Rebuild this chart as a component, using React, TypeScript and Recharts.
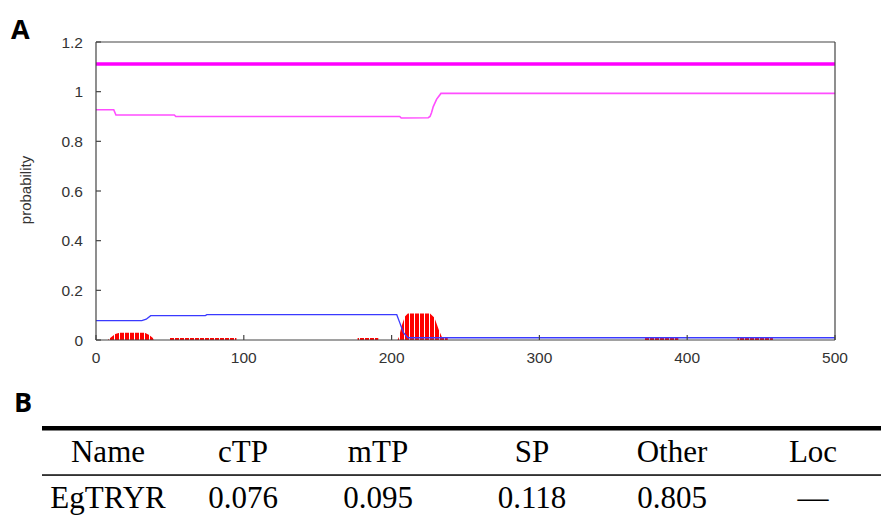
import { Area, ComposedChart, Line, XAxis, YAxis } from "recharts";

// position along the sequence (x) and probability (y)
const otherTop: [number, number][] = [
  [0, 1.111],
  [500, 1.111],
];

const otherProb: [number, number][] = [
  [0, 0.927], [12, 0.927], [13.5, 0.906], [53, 0.906], [54, 0.9],
  [205.5, 0.9], [206.5, 0.894], [224.8, 0.895], [226, 0.9], [227, 0.915],
  [228.2, 0.94], [230.5, 0.97], [233.4, 0.993], [500, 0.993],
];

const mtpProb: [number, number][] = [
  [0, 0.078], [31, 0.078], [34, 0.084], [37, 0.098], [74, 0.098],
  [75, 0.102], [203.5, 0.102], [205.5, 0.07], [208, 0.03], [211, 0.009],
  [500, 0.009],
];

const spProb: [number, number][] = [
  [0, 0], [8, 0], [10, 0.01], [13, 0.024], [16, 0.029], [33, 0.029],
  [36, 0.02], [38.5, 0.008], [39, 0], [50, 0], [50, 0.008], [95, 0.008],
  [95, 0], [177, 0], [177, 0.008], [191, 0.008], [191, 0], [204, 0],
  [205, 0.012], [207, 0.06], [209, 0.095], [211, 0.107], [226, 0.107],
  [229, 0.09], [232, 0.04], [234, 0.012], [235, 0.008], [238, 0.008],
  [238, 0], [371, 0], [371, 0.012], [394, 0.012], [394, 0], [434, 0],
  [434, 0.012], [458, 0.012], [458, 0], [500, 0],
];

const X_TICKS = [0, 100, 200, 300, 400, 500];
const Y_TICKS = [0, 0.2, 0.4, 0.6, 0.8, 1, 1.2];

const headers = ["Name", "cTP", "mTP", "SP", "Other", "Loc"];
const rowValues = ["EgTRYR", "0.076", "0.095", "0.118", "0.805", "\u2014"];
const colCenters = [108, 243, 378, 532, 672, 813];

const FRAME = "#444";
const TICK_FONT = { fontFamily: "Liberation Sans, Arial, sans-serif", fontSize: 15.5, fill: "#333" };

const toRows = (pts: [number, number][]) => pts.map(([pos, p]) => ({ pos, p }));

function BottomTick({ x, y, payload }: any) {
  return (
    <g>
      <line x1={x} y1={y} x2={x} y2={y - 5} stroke={FRAME} strokeWidth={1.2} />
      <text x={x} y={y + 23} textAnchor="middle" {...TICK_FONT}>
        {payload.value}
      </text>
    </g>
  );
}

function LeftTick({ x, y, payload }: any) {
  return (
    <g>
      <line x1={x} y1={y} x2={x + 5} y2={y} stroke={FRAME} strokeWidth={1.2} />
      <text x={x - 13} y={y + 5.5} textAnchor="end" {...TICK_FONT}>
        {String(payload.value)}
      </text>
    </g>
  );
}

function TopTick({ x, y }: any) {
  return <line x1={x} y1={y} x2={x} y2={y + 5} stroke={FRAME} strokeWidth={1.2} />;
}

function RightTick({ x, y }: any) {
  return <line x1={x} y1={y} x2={x - 5} y2={y} stroke={FRAME} strokeWidth={1.2} />;
}

export default function App() {
  return (
    <div style={{ position: "absolute", left: 0, top: 0, width: 881, height: 516, background: "#fff" }}>
      <ComposedChart width={881} height={380} margin={{ top: 41, right: 45, bottom: 10, left: 36 }}>
        <defs>
          <pattern id="redStripes" width="5" height="10" patternUnits="userSpaceOnUse">
            <rect width="5" height="10" fill="#ff0000" />
            <rect x="4" width="1" height="10" fill="#ffffff" />
          </pattern>
        </defs>
        <XAxis
          dataKey="pos"
          type="number"
          domain={[0, 500]}
          ticks={X_TICKS}
          interval={0}
          height={30}
          tickLine={false}
          tickSize={0}
          tickMargin={0}
          tick={BottomTick}
          axisLine={{ stroke: FRAME, strokeWidth: 1.2 }}
          allowDataOverflow
        />
        <XAxis
          xAxisId="top"
          orientation="top"
          type="number"
          domain={[0, 500]}
          ticks={X_TICKS}
          interval={0}
          height={1}
          tickLine={false}
          tickSize={0}
          tickMargin={0}
          tick={TopTick}
          axisLine={{ stroke: FRAME, strokeWidth: 1.2 }}
        />
        <YAxis
          type="number"
          domain={[0, 1.2]}
          ticks={Y_TICKS}
          interval={0}
          width={60}
          tickLine={false}
          tickSize={0}
          tickMargin={0}
          tick={LeftTick}
          axisLine={{ stroke: FRAME, strokeWidth: 1.2 }}
          allowDataOverflow
        />
        <YAxis
          yAxisId="right"
          orientation="right"
          type="number"
          domain={[0, 1.2]}
          ticks={Y_TICKS}
          interval={0}
          width={1}
          tickLine={false}
          tickSize={0}
          tickMargin={0}
          tick={RightTick}
          axisLine={{ stroke: FRAME, strokeWidth: 1.2 }}
        />
        <Area
          data={toRows(spProb)}
          dataKey="p"
          type="linear"
          stroke="none"
          fill="url(#redStripes)"
          fillOpacity={1}
          isAnimationActive={false}
        />
        <Line data={toRows(mtpProb)} dataKey="p" type="linear" stroke="#3a3aff" strokeWidth={1.3} dot={false} isAnimationActive={false} />
        <Line data={toRows(otherProb)} dataKey="p" type="linear" stroke="#ff4dff" strokeWidth={1.6} dot={false} isAnimationActive={false} />
        <Line data={toRows(otherTop)} dataKey="p" type="linear" stroke="#ff00ff" strokeWidth={3.5} dot={false} isAnimationActive={false} />
      </ComposedChart>

      <div
        style={{
          position: "absolute",
          left: 25,
          top: 190,
          transform: "translate(-50%, -50%) rotate(-90deg)",
          fontFamily: "Liberation Sans, Arial, sans-serif",
          fontSize: 15,
          color: "#333",
          whiteSpace: "nowrap",
        }}
      >
        probability
      </div>

      <svg width={881} height={516} style={{ position: "absolute", left: 0, top: 0, pointerEvents: "none" }}>
        <text x={11} y={39} fontFamily="Open Sans, sans-serif" fontWeight={700} fontSize={27} fill="#000">
          A
        </text>
        <text x={14} y={412} fontFamily="Open Sans, sans-serif" fontWeight={700} fontSize={27} fill="#000">
          B
        </text>
        <rect x={42} y={426} width={839} height={4.5} fill="#000" />
        <rect x={42} y={474.3} width={839} height={1.5} fill="#000" />
        {headers.map((h, i) => (
          <text key={h} x={colCenters[i]} y={461.5} textAnchor="middle" fontFamily="Liberation Serif, serif" fontSize={31} fill="#000">
            {h}
          </text>
        ))}
        {rowValues.map((v, i) => (
          <text key={i} x={colCenters[i]} y={508} textAnchor="middle" fontFamily="Liberation Serif, serif" fontSize={31} fill="#000">
            {v}
          </text>
        ))}
      </svg>
    </div>
  );
}
